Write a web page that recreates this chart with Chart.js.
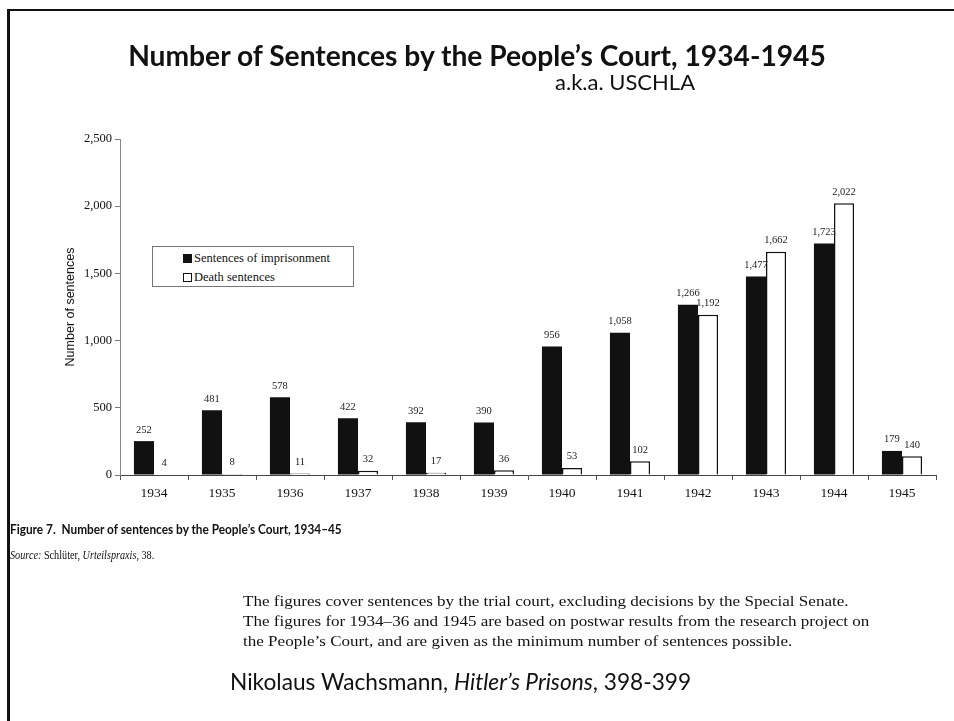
<!DOCTYPE html>
<html>
<head>
<meta charset="utf-8">
<script src="https://cdn.jsdelivr.net/npm/chart.js@4.4.1/dist/chart.umd.min.js"></script>
<style>
  html, body { margin: 0; padding: 0; background: #fff; }
  #page { position: relative; width: 954px; height: 721px; overflow: hidden; background: #fff; }
  #frame { position: absolute; left: 7px; top: 9px; width: 960px; height: 720px; border-top: 2px solid #111; border-left: 3px solid #111; }
  #chartWrap { position: absolute; left: 0; top: 0; width: 954px; height: 721px; }
  .t { position: absolute; white-space: nowrap; color: #111; transform-origin: 0 50%; }
  #title { left: 0; width: 954px; text-align: center; top: 38px; font: bold 28.2px/34px Lato, "Open Sans", sans-serif; }
  #sub { left: 555px; top: 69px; font: 22px/26px Lato, "Open Sans", sans-serif; }
  #legend { position: absolute; left: 152px; top: 246px; width: 200px; height: 39px; border: 1px solid #777; background: #fff; font: 12.5px "Liberation Serif", serif; color: #111; }
  .li { position: absolute; left: 30px; height: 14px; line-height: 14px; }
  .sw { display: inline-block; width: 9px; height: 9px; vertical-align: -1px; margin-right: 2px; box-sizing: border-box; border: 1px solid #111; }
  #fig { left: 10px; top: 521px; font: bold 13px Lato, "Open Sans", sans-serif; transform: scaleX(0.91); }
  #src { left: 10px; top: 548px; font: 12px "Liberation Serif", serif; transform: scaleX(0.85); }
  #para { left: 243px; top: 591px; font: 15.5px/20px "Liberation Serif", serif; transform: scaleX(1.1); transform-origin: 0 0; }
  #cite { left: 230px; top: 668px; font: 22.7px/27px Lato, "Open Sans", sans-serif; }
</style>
</head>
<body>
<div id="page">
  <div id="frame"></div>
  <div id="chartWrap"><canvas id="c" width="954" height="721"></canvas></div>
  <div class="t" id="title">Number of Sentences by the People’s Court, 1934-1945</div>
  <div class="t" id="sub">a.k.a. USCHLA</div>
  <div id="legend">
    <div class="li" style="top:4px"><span class="sw" style="background:#111"></span>Sentences of imprisonment</div>
    <div class="li" style="top:23px"><span class="sw" style="background:#fff"></span>Death sentences</div>
  </div>
  <div class="t" id="fig">Figure 7.&nbsp; Number of sentences by the People’s Court, 1934–45</div>
  <div class="t" id="src"><i>Source:</i> Schlüter, <i>Urteilspraxis,</i> 38.</div>
  <div class="t" id="para">The figures cover sentences by the trial court, excluding decisions by the Special Senate.<br>The figures for 1934–36 and 1945 are based on postwar results from the research project on<br>the People’s Court, and are given as the minimum number of sentences possible.</div>
  <div class="t" id="cite">Nikolaus Wachsmann, <i>Hitler’s Prisons</i>, 398-399</div>
</div>
<script>
const years = ["1934","1935","1936","1937","1938","1939","1940","1941","1942","1943","1944","1945"];
const imprisonment = [252, 481, 578, 422, 392, 390, 956, 1058, 1266, 1477, 1723, 179];
const deaths = [4, 8, 11, 32, 17, 36, 53, 102, 1192, 1662, 2022, 140];
const yTicks = [0, 500, 1000, 1500, 2000, 2500];

const fmt = v => v.toLocaleString("en-US");

const valueLabels = {
  id: "valueLabels",
  afterDatasetsDraw(chart) {
    const ctx = chart.ctx;
    ctx.save();
    ctx.font = "10.5px 'Liberation Serif', serif";
    ctx.fillStyle = "#222";
    ctx.textAlign = "center";
    ctx.textBaseline = "bottom";
    chart.data.datasets.forEach((ds, i) => {
      const meta = chart.getDatasetMeta(i);
      meta.data.forEach((el, j) => {
        ctx.fillText(fmt(ds.data[j]), el.x, el.y - 6);
      });
    });
    ctx.restore();
  }
};

new Chart(document.getElementById("c"), {
  type: "bar",
  data: {
    labels: years,
    datasets: [
      { label: "Sentences of imprisonment", data: imprisonment, backgroundColor: "#111", borderColor: "#111", borderWidth: 0 },
      { label: "Death sentences", data: deaths, backgroundColor: "#fff", borderColor: "#111", borderWidth: 1.5 }
    ]
  },
  options: {
    responsive: false,
    animation: false,
    events: [],
    layout: { padding: { left: 50, top: 139, right: 18, bottom: 216 } },
    plugins: { legend: { display: false }, tooltip: { enabled: false } },
    datasets: { bar: { barPercentage: 1, categoryPercentage: 0.59 } },
    scales: {
      x: {
        afterFit(s) { s.height = 30; },
        grid: { display: true, drawOnChartArea: false, offset: true, tickLength: 5, color: "#555", lineWidth: 1 },
        border: { color: "#444", width: 1 },
        ticks: { color: "#111", padding: 5, font: { family: "'Liberation Serif', serif", size: 13.5 } }
      },
      y: {
        min: 0, max: 2500,
        afterFit(s) { s.width = 70; },
        afterBuildTicks(s) { s.ticks = yTicks.map(v => ({ value: v })); },
        grid: { display: true, drawOnChartArea: false, tickLength: 5, color: "#777", lineWidth: 1 },
        border: { color: "#888", width: 1 },
        ticks: { color: "#111", padding: 3, font: { family: "'Liberation Serif', serif", size: 12.5 }, callback: v => fmt(v) },
        title: { display: true, text: "Number of sentences", color: "#111", padding: { top: 13.5, bottom: 0 }, font: { family: "'Liberation Sans', Arial, sans-serif", size: 12.5 } }
      }
    }
  },
  plugins: [valueLabels]
});
</script>
</body>
</html>
